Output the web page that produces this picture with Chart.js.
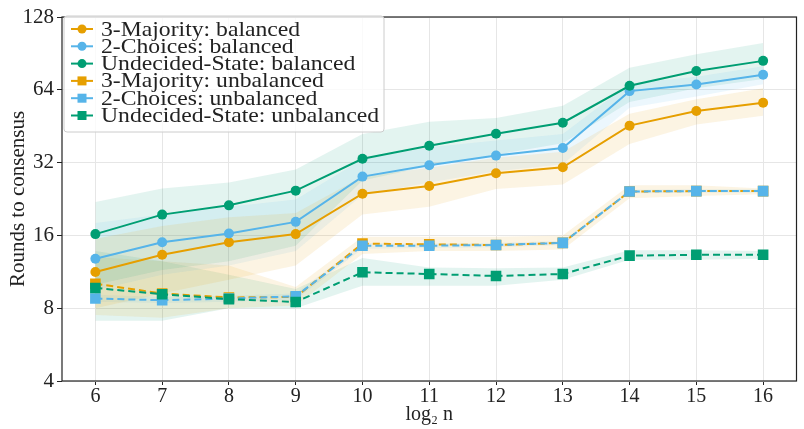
<!DOCTYPE html>
<html>
<head>
<meta charset="utf-8">
<script src="https://cdn.jsdelivr.net/npm/chart.js@4.4.0/dist/chart.umd.min.js"></script>
<style>
  html, body { margin: 0; padding: 0; background: #fff; }
  #wrap { width: 804px; height: 429px; position: relative; }
</style>
</head>
<body>
<div id="wrap"><canvas id="chart"></canvas></div>
<script>
// x values: log2 n
const logN = [6, 7, 8, 9, 10, 11, 12, 13, 14, 15, 16];
const yTicks = [4, 8, 16, 32, 64, 128];

// balanced
const majBal = [11.3, 13.3, 15.0, 16.2, 23.8, 25.6, 28.9, 30.6, 45.5, 52.3, 56.6];
const majBalLo = [8.0, 9.2, 10.5, 12.0, 19.5, 21.0, 24.9, 26.0, 38.2, 46.0, 50.0];
const majBalHi = [15.5, 17.5, 19.0, 19.8, 28.0, 30.5, 33.5, 35.5, 51.0, 58.5, 65.0];

const choBal = [12.8, 15.0, 16.3, 18.2, 28.0, 31.2, 34.2, 36.8, 63.2, 67.3, 73.8];
const choBalLo = [9.5, 11.0, 12.0, 13.8, 23.5, 26.5, 29.5, 31.5, 54.0, 60.0, 67.5];
const choBalHi = [18.0, 19.5, 21.0, 22.5, 33.0, 37.0, 39.5, 42.0, 68.0, 72.5, 80.0];

const undBal = [16.2, 19.5, 21.3, 24.5, 33.2, 37.6, 42.1, 46.8, 66.5, 76.6, 84.3];
const undBalLo = [10.0, 11.5, 12.5, 14.5, 27.0, 31.0, 34.5, 38.5, 57.0, 65.0, 71.0];
const undBalHi = [22.0, 25.0, 26.5, 30.0, 42.0, 47.2, 48.9, 55.0, 79.0, 89.8, 100.0];

// unbalanced
const majUnb = [10.1, 9.2, 8.86, 8.9, 14.8, 14.7, 14.6, 14.9, 24.3, 24.4, 24.4];
const majUnbLo = [7.5, 7.3, 8.0, 8.2, 13.4, 13.8, 13.8, 14.0, 22.8, 23.3, 23.7];
const majUnbHi = [13.0, 12.5, 12.0, 9.8, 15.8, 15.8, 15.8, 16.0, 25.8, 25.8, 25.0];

const choUnb = [8.77, 8.63, 8.77, 8.96, 14.5, 14.5, 14.6, 14.9, 24.3, 24.4, 24.4];
const choUnbLo = [8.5, 8.4, 8.5, 8.7, 14.1, 14.2, 14.3, 14.6, 23.9, 24.0, 24.0];
const choUnbHi = [9.1, 8.9, 9.0, 9.2, 14.9, 14.8, 14.9, 15.2, 24.7, 24.8, 24.8];

const undUnb = [9.7, 9.14, 8.72, 8.49, 11.26, 11.08, 10.87, 11.08, 13.2, 13.3, 13.3];
const undUnbLo = [7.1, 7.1, 8.0, 8.0, 9.9, 9.9, 9.9, 10.5, 12.7, 12.7, 12.8];
const undUnbHi = [13.8, 12.5, 11.0, 9.6, 12.9, 11.8, 11.7, 11.8, 13.9, 13.9, 13.8];

const ORANGE = "#E69F00", BLUE = "#56B4E9", GREEN = "#009E73";
const SERIF = "'Liberation Serif', 'DejaVu Serif', serif";

const pts = arr => arr.map((v, i) => ({ x: logN[i], y: v }));

function rgba(hex, a) {
    const n = parseInt(hex.slice(1), 16);
    return `rgba(${n >> 16},${(n >> 8) & 255},${n & 255},${a})`;
}

const series = [
    { label: "3-Majority: balanced", data: majBal, lo: majBalLo, hi: majBalHi, color: ORANGE, style: "circle", dash: [] },
    { label: "2-Choices: balanced", data: choBal, lo: choBalLo, hi: choBalHi, color: BLUE, style: "circle", dash: [] },
    { label: "Undecided-State: balanced", data: undBal, lo: undBalLo, hi: undBalHi, color: GREEN, style: "circle", dash: [] },
    { label: "3-Majority: unbalanced", data: majUnb, lo: majUnbLo, hi: majUnbHi, color: ORANGE, style: "rect", dash: [7, 4] },
    { label: "2-Choices: unbalanced", data: choUnb, lo: choUnbLo, hi: choUnbHi, color: BLUE, style: "rect", dash: [7, 4] },
    { label: "Undecided-State: unbalanced", data: undUnb, lo: undUnbLo, hi: undUnbHi, color: GREEN, style: "rect", dash: [7, 4] }
];

const datasets = [];
// bands first
series.forEach(s => {
    datasets.push({
        data: pts(s.hi), borderWidth: 0, pointRadius: 0, showLine: true,
        backgroundColor: rgba(s.color, 0.11), fill: "+1", order: 10
    });
    datasets.push({
        data: pts(s.lo), borderWidth: 0, pointRadius: 0, showLine: true, fill: false, order: 10
    });
});
// lines
series.forEach((s, i) => {
    datasets.push({
        label: s.label,
        data: pts(s.data),
        borderColor: s.color,
        backgroundColor: s.color,
        borderWidth: 2,
        borderDash: s.dash,
        pointStyle: s.style,
        pointRadius: s.style === "rect" ? 7.5 : 5,
        pointBorderWidth: 0,
        fill: false,
        order: 6 - i
    });
});

const frame = {
    id: "frame",
    afterDraw(chart) {
        const { ctx, chartArea: a } = chart;
        ctx.save();
        ctx.strokeStyle = "#222";
        ctx.lineWidth = 1.2;
        ctx.strokeRect(a.left, a.top, a.right - a.left, a.bottom - a.top);

        // legend box
        const bx = a.left + 2, by = a.top - 1, bw = 320, bh = 116;
        ctx.fillStyle = "rgba(255,255,255,0.8)";
        ctx.strokeStyle = "#cccccc";
        ctx.lineWidth = 1;
        ctx.beginPath();
        ctx.roundRect(bx, by, bw, bh, 3);
        ctx.fill();
        ctx.stroke();

        ctx.font = "21px " + SERIF;
        ctx.textBaseline = "middle";
        // the reference face is wider than Times; stretch to the same run length
        const sx = 278 / ctx.measureText(series[5].label).width;
        series.forEach((s, i) => {
            const y = by + 13 + i * 17.3;
            ctx.strokeStyle = s.color;
            ctx.fillStyle = s.color;
            ctx.lineWidth = 2;
            ctx.setLineDash([]);
            ctx.beginPath();
            ctx.moveTo(bx + 7, y);
            ctx.lineTo(bx + 29, y);
            ctx.stroke();
            if (s.style === "circle") {
                ctx.beginPath();
                ctx.arc(bx + 18, y, 4.5, 0, Math.PI * 2);
                ctx.fill();
            } else {
                ctx.fillRect(bx + 13.5, y - 4.5, 9, 9);
            }
            ctx.save();
            ctx.translate(bx + 37, y + 1);
            ctx.scale(sx, 1);
            ctx.fillStyle = "#222";
            ctx.fillText(s.label, 0, 0);
            ctx.restore();
        });
        ctx.restore();
    }
};

new Chart(document.getElementById("chart"), {
    type: "line",
    data: { datasets },
    options: {
        responsive: true,
        maintainAspectRatio: false,
        animation: false,
        layout: { padding: { top: 17, right: 7, left: 0, bottom: 0 } },
        plugins: {
            legend: { display: false },
            tooltip: { enabled: false },
            filler: { drawTime: "beforeDatasetsDraw" }
        },
        scales: {
            x: {
                type: "linear", min: 5.5, max: 16.5,
                afterBuildTicks: sc => { sc.ticks = logN.map(v => ({ value: v })); },
                afterFit: sc => { sc.height = 48; },
                ticks: { color: "#222", font: { family: SERIF, size: 20 }, padding: 0, maxRotation: 0 },
                grid: { color: "#e6e6e6", tickColor: "#222", tickLength: 4 },
                border: { display: false },
                title: { display: true, text: "log₂ n", color: "#222", font: { family: SERIF, size: 20 }, padding: { top: 0, bottom: 2 } }
            },
            y: {
                type: "logarithmic", min: 4, max: 128,
                afterBuildTicks: sc => { sc.ticks = yTicks.map(v => ({ value: v })); },
                afterFit: sc => { sc.width = 62; },
                ticks: { color: "#222", font: { family: SERIF, size: 21 }, padding: 3, callback: v => String(v) },
                grid: { color: "#e6e6e6", tickColor: "#222", tickLength: 5 },
                border: { display: false },
                title: { display: true, text: "Rounds to consensus", color: "#222", font: { family: SERIF, size: 21 }, padding: { top: 6, bottom: 0 } }
            }
        }
    },
    plugins: [frame]
});
</script>
</body>
</html>
